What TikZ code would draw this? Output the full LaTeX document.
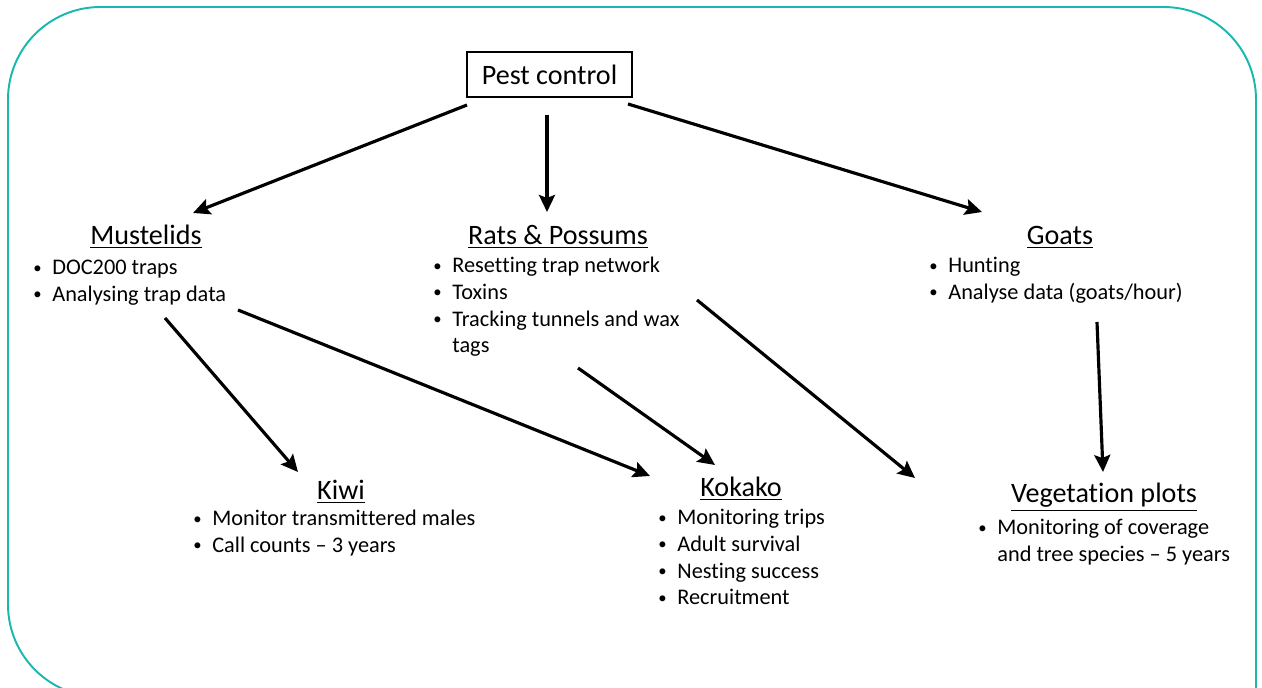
\documentclass[tikz,border=0pt]{standalone}
\usepackage{fontspec}
\setmainfont[RawFeature={-liga;-clig;-calt;-dlig}]{Carlito}
\usepackage{tikz}
\usetikzlibrary{arrows.meta}
\definecolor{frameteal}{RGB}{24,184,174}
\tikzstyle{bx}=[draw,rectangle,line width=0.8pt,minimum width=3.3cm,minimum height=0.9cm,inner sep=0pt,font=\fontsize{16}{19}\selectfont]
\tikzstyle{hd}=[anchor=base,inner sep=0pt,font=\fontsize{16}{19}\selectfont]
\tikzstyle{lst}=[anchor=base west,inner sep=0pt,font=\fontsize{12.7}{15.1}\selectfont]
\tikzstyle{arr}=[line width=1.8pt,-{Stealth[length=0.34cm,width=0.32cm,inset=0.06cm]}]
\newcommand{\bl}{\raisebox{0.9pt}{\fontsize{9.5}{9.5}\selectfont\textbullet}}
\newcommand{\blist}[1]{\begin{tabular}[t]{@{}p{0.38cm}@{}l@{}}#1\end{tabular}}

\begin{document}
\begin{tikzpicture}[x=0.02cm,y=-0.02cm]
      \clip (0,0) rectangle (1262,688);
      % frame
      \draw [frameteal, line width=1.1pt, rounded corners=1.85cm]
      (1256,760) -- (1256,7) -- (8,7) -- (8,697) -- (400,697);
      \node [bx] (pc) at (549.5,74.5) {Pest control};
      \node [hd] (mu) at (146,245) {\underline{Mustelids}};
      \node [hd] (rp) at (558,245) {\underline{Rats \& Possums}};
      \node [hd] (go) at (1060,245) {\underline{Goats}};
      \node [hd] (ki) at (341,500) {\underline{Kiwi}};
      \node [hd] (ko) at (741,497) {\underline{Kokako}};
      \node [hd] (vp) at (1104,503) {\underline{Vegetation plots}};
      \node [lst] (mul) at (33,275) {\blist{\bl & DOC200 traps\\ \bl & Analysing trap data}};
      \node [lst] (rpl) at (433,273) {\blist{\bl & Reset\kern0pt ting trap network\\ \bl & Toxins\\ \bl & Tracking tunnels and wax\\ & tags}};
      \node [lst] (gol) at (929,273) {\blist{\bl & Hunting\\ \bl & Analyse data (goats/hour)}};
      \node [lst] (kil) at (193,526) {\blist{\bl & Monitor transmit\kern0pt tered males\\ \bl & Call counts -- 3 years}};
      \node [lst] (kol) at (658,525) {\blist{\bl & Monitoring trips\\ \bl & Adult survival\\ \bl & Nesting success\\ \bl & Recruitment}};
      \node [lst] (vpl) at (978,535) {\blist{\bl & Monitoring of coverage\\ & and tree species -- 5 years}};
      \path [arr]
      ([shift={(-82.5,30.5)}]pc.center) edge ([shift={(47,-32)}]mu.base)
      ([shift={(-2.5,40.5)}]pc.center) edge ([shift={(-11,-33)}]rp.base)
      ([shift={(78.5,29.5)}]pc.center) edge ([shift={(-78,-33)}]go.base)
      ([shift={(132,43)}]mul.base west) edge ([shift={(-43,-28)}]ki.base)
      ([shift={(205,35)}]mul.base west) edge ([shift={(-91,-21)}]ko.base)
      ([shift={(145,95)}]rpl.base west) edge ([shift={(-26,-32)}]ko.base)
      ([shift={(264,27)}]rpl.base west) edge ([shift={(-189,-25)}]vp.base)
      ([shift={(168,49)}]gol.base west) edge ([shift={(-1,-31)}]vp.base);
    \end{tikzpicture}
\end{document}
